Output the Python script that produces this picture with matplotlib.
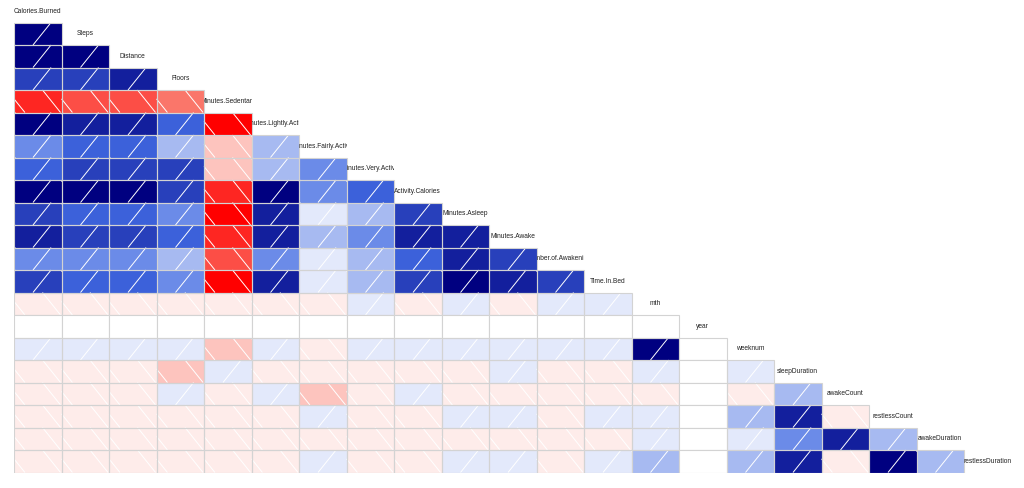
import numpy as np
import matplotlib
matplotlib.use("Agg")
import matplotlib.pyplot as plt
from matplotlib.patches import Rectangle
from matplotlib.collections import LineCollection
from matplotlib.colors import LinearSegmentedColormap
from matplotlib.transforms import Bbox, TransformedBbox

# ---------------- data ----------------
variables = ["Calories.Burned", "Steps", "Distance", "Floors", "Minutes.Sedentary",
             "Minutes.Lightly.Active", "Minutes.Fairly.Active", "Minutes.Very.Active",
             "Activity.Calories", "Minutes.Asleep", "Minutes.Awake",
             "Number.of.Awakenings", "Time.In.Bed", "mth", "year", "weeknum",
             "sleepDuration", "awakeCount", "restlessCount", "awakeDuration",
             "restlessDuration"]

NA = float("nan")
# lower-triangle correlations, row i holds correlations with variables 0..i-1
corr_steps = [0.93]
corr_distance = [0.93, 0.93]
corr_floors = [0.64, 0.64, 0.79]
corr_sedentary = [-0.79, -0.64, -0.64, -0.50]
corr_lightly = [0.93, 0.79, 0.79, 0.50, -0.93]
corr_fairly = [0.36, 0.50, 0.50, 0.21, -0.21, 0.21]
corr_very = [0.50, 0.64, 0.64, 0.64, -0.21, 0.21, 0.36]
corr_actcal = [0.93, 0.93, 0.93, 0.64, -0.79, 0.93, 0.36, 0.50]
corr_asleep = [0.64, 0.50, 0.50, 0.36, -0.93, 0.79, 0.07, 0.21, 0.64]
corr_awake = [0.79, 0.64, 0.64, 0.50, -0.79, 0.79, 0.21, 0.36, 0.79, 0.79]
corr_numawak = [0.36, 0.36, 0.36, 0.21, -0.64, 0.36, 0.07, 0.21, 0.50, 0.79, 0.64]
corr_timeinbed = [0.64, 0.50, 0.50, 0.36, -0.93, 0.79, 0.07, 0.21, 0.64, 0.93, 0.79, 0.64]
corr_mth = [-0.07, -0.07, -0.07, -0.07, -0.07, -0.07, -0.07,
            0.07, -0.07, 0.07, -0.07, 0.07, 0.07]
corr_year = [NA] * 14
corr_weeknum = [0.07, 0.07, 0.07, 0.07, -0.21, 0.07, -0.07,
                0.07, 0.07, 0.07, 0.07, 0.07, 0.07, 0.93, NA]
corr_sleepdur = [-0.07, -0.07, -0.07, -0.21, 0.07, -0.07, -0.07,
                 -0.07, -0.07, -0.07, 0.07, -0.07, -0.07, 0.07, NA, 0.07]
corr_awakecount = [-0.07, -0.07, -0.07, 0.07, -0.07, 0.07, -0.21,
                   -0.07, 0.07, -0.07, -0.07, -0.07, -0.07, -0.07, NA, -0.07, 0.21]
corr_restlesscount = [-0.07, -0.07, -0.07, -0.07, -0.07, -0.07, 0.07,
                      -0.07, -0.07, 0.07, 0.07, -0.07, 0.07, 0.07, NA, 0.21, 0.79, -0.07]
corr_awakedur = [-0.07, -0.07, -0.07, -0.07, -0.07, -0.07, -0.07,
                 -0.07, -0.07, -0.07, -0.07, -0.07, -0.07, 0.07, NA, 0.07, 0.36, 0.79, 0.21]
corr_restlessdur = [-0.07, -0.07, -0.07, -0.07, -0.07, -0.07, 0.07,
                    -0.07, -0.07, 0.07, 0.07, -0.07, 0.07, 0.21, NA, 0.21, 0.79, -0.07, 0.93, 0.21]

lower_rows = [[], corr_steps, corr_distance, corr_floors, corr_sedentary, corr_lightly,
              corr_fairly, corr_very, corr_actcal, corr_asleep, corr_awake, corr_numawak,
              corr_timeinbed, corr_mth, corr_year, corr_weeknum, corr_sleepdur,
              corr_awakecount, corr_restlesscount, corr_awakedur, corr_restlessdur]

# ---------------- style ----------------
n = len(variables)
ncol = 14
ramp = LinearSegmentedColormap.from_list("corrgram", ["red", "salmon", "white", "royalblue", "navy"])
pal = [ramp(i / (ncol - 1)) for i in range(ncol)]
breaks = np.linspace(-1, 1, ncol + 1)

W, H = 1024, 488
fig = plt.figure(figsize=(W / 100, H / 100), dpi=100)
left, right, top, bottom = 14, 1011.5, 0, 472.5
ax = fig.add_axes([left / W, (H - bottom) / H, (right - left) / W, (bottom - top) / H])
ax.set_xlim(0, n)
ax.set_ylim(n, 0)
ax.axis("off")

S = 0.38      # horizontal run of a hatch line across the cell height (cell units)
STEP = 0.75   # horizontal spacing between hatch lines (cell units)
PHASE_POS = 0.40
PHASE_NEG = 0.60

segs = []
for i, row in enumerate(lower_rows):
    for j, r in enumerate(row):
        x0, y0 = j, i  # top-left in data coords (y inverted)
        if np.isnan(r):
            ax.add_patch(Rectangle((x0, y0), 1, 1, facecolor="white",
                                   edgecolor="lightgray", lw=0.8, zorder=3))
            continue
        k = int(np.clip(np.searchsorted(breaks, r, side="right") - 1, 0, ncol - 1))
        ax.add_patch(Rectangle((x0, y0), 1, 1, facecolor=pal[k], edgecolor="none", zorder=1))
        # hatch lines, u = horizontal fraction, v = vertical fraction from bottom
        for m in range(-3, 4):
            if r > 0:
                b = PHASE_POS + m * STEP      # x at bottom
                f = lambda v, b=b: b + S * v
            else:
                t = PHASE_NEG + m * STEP      # x at top
                f = lambda v, t=t: t + S * (1 - v)
            # clip v in [0,1] so that 0<=f(v)<=1
            va, vb = 0.0, 1.0
            ua, ub = f(va), f(vb)
            # parametric clip
            vs = np.linspace(0, 1, 401)
            us = f(vs)
            ok = (us >= 0) & (us <= 1)
            if ok.sum() < 2:
                continue
            v1, v2 = vs[ok][0], vs[ok][-1]
            p1 = (x0 + f(v1), y0 + 1 - v1)
            p2 = (x0 + f(v2), y0 + 1 - v2)
            segs.append([p1, p2])
        ax.add_patch(Rectangle((x0, y0), 1, 1, facecolor="none",
                               edgecolor="lightgray", lw=0.8, zorder=3))

ax.add_collection(LineCollection(segs, colors="white", linewidths=0.7, zorder=2))

# diagonal labels, clipped to their cell
for i, name in enumerate(variables):
    txt = ax.text(i + 0.5, i + 0.5, name, ha="center", va="center",
                  fontsize=4.8, family=["Liberation Sans", "DejaVu Sans"],
                  color="#222222", zorder=4)
    bb = TransformedBbox(Bbox([[i, i], [i + 1, i + 1]]), ax.transData)
    txt.set_clip_box(bb)
    txt.set_clip_on(True)

fig.savefig("out.png", dpi=100, facecolor="white")
